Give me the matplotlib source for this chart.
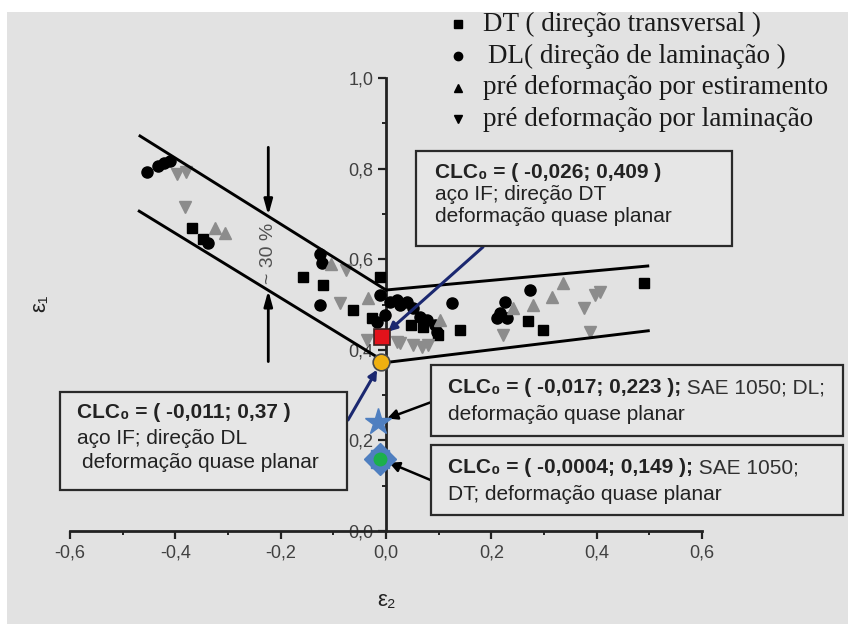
import matplotlib
matplotlib.use("Agg")
import matplotlib.pyplot as plt
from matplotlib.patches import Rectangle

# ---------------- data ----------------
# DT (direção transversal) - black squares
dt_x = [-0.369, -0.347, -0.157, -0.119, -0.062, -0.011, -0.027, 0.048, 0.070, 0.099, 0.140, 0.269, 0.299, 0.489]
dt_y = [0.669, 0.644, 0.561, 0.543, 0.488, 0.561, 0.470, 0.455, 0.450, 0.433, 0.444, 0.464, 0.444, 0.547]
# DL (direção de laminação) - black circles
dl_x = [-0.454, -0.432, -0.421, -0.411, -0.338, -0.126, -0.122, -0.125, -0.011, -0.018, -0.002, 0.008, 0.020,
        0.027, 0.039, 0.052, 0.065, 0.077, 0.093, 0.096, 0.125, 0.210, 0.216, 0.226, 0.229, 0.273]
dl_y = [0.793, 0.806, 0.812, 0.817, 0.636, 0.612, 0.591, 0.499, 0.521, 0.462, 0.477, 0.506, 0.510,
        0.499, 0.506, 0.492, 0.473, 0.466, 0.455, 0.440, 0.503, 0.470, 0.481, 0.506, 0.470, 0.532]
# pré deformação por estiramento - gray up triangles
est_x = [-0.325, -0.306, -0.105, -0.034, 0.103, 0.242, 0.280, 0.315, 0.337]
est_y = [0.668, 0.657, 0.590, 0.514, 0.466, 0.492, 0.499, 0.516, 0.547]
# pré deformação por laminação - gray down triangles
lam_x = [-0.397, -0.380, -0.382, -0.087, -0.075, -0.037, 0.020, 0.027, 0.051, 0.068, 0.080, 0.223, 0.375, 0.397, 0.406, 0.387]
lam_y = [0.787, 0.793, 0.716, 0.504, 0.576, 0.422, 0.418, 0.414, 0.411, 0.407, 0.411, 0.433, 0.492, 0.521, 0.528, 0.440]

# limit band lines
upper_left_x, upper_left_y = [-0.467, 0.0], [0.872, 0.532]
lower_left_x, lower_left_y = [-0.4685, 0.0], [0.706, 0.372]
upper_right_x, upper_right_y = [0.0, 0.497], [0.532, 0.585]
lower_right_x, lower_right_y = [0.0, 0.498], [0.372, 0.442]

# CLC0 markers (red square, orange circle, blue star, blue/green seal)
clc_x = [-0.008, -0.009, -0.015, -0.011]
clc_y = [0.428, 0.372, 0.241, 0.159]

# band thickness arrows
thick_x = -0.2235
thick_upper = [0.847, 0.697]
thick_lower = [0.374, 0.531]

xticks = [-0.6, -0.4, -0.2, 0.0, 0.2, 0.4, 0.6]
xtick_labels = ["-0,6", "-0,4", "-0,2", "0,0", "0,2", "0,4", "0,6"]
xminor = [-0.5, -0.3, -0.1, 0.1, 0.3, 0.5]
yticks = [0.0, 0.2, 0.4, 0.6, 0.8, 1.0]
ytick_labels = ["0,0", "0,2", "0,4", "0,6", "0,8", "1,0"]
yminor = [0.1, 0.3, 0.5, 0.7, 0.9]

legend_labels = ["DT ( direção transversal )", "DL( direção de laminação )",
                 "pré deformação por estiramento", "pré deformação por laminação"]

# ---------------- figure ----------------
W, H, DPI = 848, 624, 100
X0PX, Y0PX = 386.0, 531.0     # pixel of data origin
PXX, PXY = 526.7, 453.0       # pixels per data unit


def fp(x, y):
    """pixel position -> figure fraction"""
    return (x / W, 1 - y / H)


SANS = ["Liberation Sans", "DejaVu Sans"]
SERIF = ["Liberation Serif", "DejaVu Serif"]
BOX_FS = 15

fig = plt.figure(figsize=(W / DPI, H / DPI), dpi=DPI)
fig.patch.set_facecolor("white")
fig.patches.append(Rectangle((7 / W, 0), 1, 1 - 12 / H, transform=fig.transFigure,
                             facecolor="#e2e2e2", edgecolor="none", zorder=-10))

ax = fig.add_axes([0, 0, 1, 1])
ax.set_facecolor("none")
ax.set_xlim(-X0PX / PXX, (W - X0PX) / PXX)
ax.set_ylim(-(H - Y0PX) / PXY, Y0PX / PXY)

for s in ["top", "right"]:
    ax.spines[s].set_visible(False)
ax.spines["left"].set_position(("data", 0))
ax.spines["bottom"].set_position(("data", 0))
ax.spines["left"].set_bounds(0, 1.0)
ax.spines["bottom"].set_bounds(-0.6, 0.6)
for s in ["left", "bottom"]:
    ax.spines[s].set_linewidth(2.0)
    ax.spines[s].set_color("#222222")
    ax.spines[s].set_zorder(2)

ax.set_xticks(xticks, xtick_labels)
ax.set_xticks(xminor, minor=True)
ax.set_yticks(yticks, ytick_labels)
ax.set_yticks(yminor, minor=True)
ax.tick_params(which="major", direction="out", length=5.5, width=1.6, color="#222222",
               labelsize=13, labelcolor="#404040")
ax.tick_params(which="minor", direction="out", length=3, width=1.4, color="#222222")
ax.tick_params(axis="x", pad=4)
ax.tick_params(axis="y", pad=3.5)
for lab in ax.get_xticklabels() + ax.get_yticklabels():
    lab.set_family(SANS)

# scatter series
ax.plot(dl_x, dl_y, "o", ms=8, color="black", zorder=3)
ax.plot(dt_x, dt_y, "s", ms=7, color="black", zorder=3)
ax.plot(est_x, est_y, "^", ms=8.5, color="#8c8c8c", zorder=3)
ax.plot(lam_x, lam_y, "v", ms=8.5, color="#8c8c8c", zorder=3)

# band lines
for lx, ly in [(upper_left_x, upper_left_y), (lower_left_x, lower_left_y),
               (upper_right_x, upper_right_y), (lower_right_x, lower_right_y)]:
    ax.plot(lx, ly, "-", color="black", lw=2.1, zorder=4)

# thickness arrows + label
arrow_kw = dict(arrowstyle="-|>,head_length=0.9,head_width=0.25", color="black", lw=2.0,
                shrinkA=0, shrinkB=0)
ax.annotate("", xy=(thick_x, thick_upper[1]), xytext=(thick_x, thick_upper[0]),
            arrowprops=arrow_kw, zorder=4)
ax.annotate("", xy=(thick_x, thick_lower[1]), xytext=(thick_x, thick_lower[0]),
            arrowprops=arrow_kw, zorder=4)
ax.text(thick_x, 0.612, "~ 30 %", rotation=90, ha="center", va="center",
        fontsize=14, color="#505050", family=SANS, zorder=4)

# navy connectors to the CLC markers
navy_kw = dict(arrowstyle="-|>,head_length=0.5,head_width=0.25", color="#1b2870", lw=2.2,
               shrinkA=0, shrinkB=6)
ax.annotate("", xy=(clc_x[0], clc_y[0]), xytext=fp(483, 247), textcoords="figure fraction",
            arrowprops=navy_kw, zorder=5)
ax.annotate("", xy=(clc_x[1], clc_y[1]), xytext=fp(348, 420), textcoords="figure fraction",
            arrowprops=navy_kw, zorder=5)
black_kw = dict(arrowstyle="-|>,head_length=0.6,head_width=0.3", color="black", lw=1.8,
                shrinkA=0, shrinkB=7)
ax.annotate("", xy=(clc_x[2], clc_y[2]), xytext=fp(431.5, 402), textcoords="figure fraction",
            arrowprops=black_kw, zorder=5)
ax.annotate("", xy=(clc_x[3], clc_y[3]), xytext=fp(430.5, 480), textcoords="figure fraction",
            arrowprops=black_kw, zorder=5)

# CLC markers
ax.plot(clc_x[0], clc_y[0], "s", ms=11, color="#e3121b", mec="#3a2020", mew=1.2, zorder=7)
ax.plot(clc_x[1], clc_y[1], "o", ms=12, color="#f0b010", mec="#4a4a4a", mew=1.2, zorder=7)
ax.plot(clc_x[2], clc_y[2], "*", ms=20, color="#4f7fc0", mec="#4f7fc0", zorder=7)
ax.plot(clc_x[3], clc_y[3], "s", ms=13, color="#4f7fc0", mec="#4f7fc0", zorder=7)
ax.plot(clc_x[3], clc_y[3], "D", ms=16, color="#4f7fc0", mec="#4f7fc0", zorder=7)
ax.plot(clc_x[3], clc_y[3], "o", ms=9, color="#1cb04c", mec="#1cb04c", zorder=8)

# annotation boxes


def box(x0, y0, x1, y1):
    ax.add_patch(Rectangle(fp(x0, y1), (x1 - x0) / W, (y1 - y0) / H, transform=fig.transFigure,
                           facecolor="#e6e6e6", edgecolor="#2a2a2a", lw=1.6, clip_on=False, zorder=6))


def txt(x, y, s, bold=False, size=BOX_FS):
    return ax.text(*fp(x, y), s, transform=fig.transFigure, ha="left", va="center",
                   fontsize=size, family=SANS, fontweight="bold" if bold else "normal",
                   color="#222222", zorder=9)


def txt2(x, y, s_bold, s_rest, size=BOX_FS):
    t = ax.text(*fp(x, y), s_bold, transform=fig.transFigure, ha="left", va="baseline",
                fontsize=size, family=SANS, fontweight="bold", color="#222222", zorder=9)
    ax.annotate(s_rest, xy=(1, 0), xycoords=t, ha="left", va="bottom", fontsize=size,
                family=SANS, color="#303030", zorder=9)


box(416, 151, 732, 246)
txt(435, 172, "CLC₀ = ( -0,026; 0,409 )", bold=True)
txt(435, 194, "aço IF; direção DT")
txt(435, 216, "deformação quase planar")

box(60, 392, 347, 490)
txt(77, 413, "CLC₀ = ( -0,011; 0,37 )", bold=True)
txt(77, 438, "aço IF; direção DL")
txt(82, 463, "deformação quase planar")

box(431, 365, 843, 436)
txt2(448, 393, "CLC₀ = ( -0,017; 0,223 );", " SAE 1050; DL;")
txt(448, 415, "deformação quase planar")

box(431, 445, 843, 515)
txt2(448, 473, "CLC₀ = ( -0,0004; 0,149 );", " SAE 1050;")
txt(448, 495, "DT; deformação quase planar")

# axis titles
ax.text(*fp(40, 303), "ε₁", transform=fig.transFigure, rotation=90, ha="center", va="center",
        fontsize=16, family=SANS, color="#222222")
ax.text(*fp(386, 600), "ε₂", transform=fig.transFigure, ha="center", va="center",
        fontsize=16, family=SANS, color="#222222")

# legend (manual)
leg_markers = ["s", "o", "^", "v"]
leg_rows = [24, 56, 88, 119]
leg_text_x = [483, 488, 483, 483]
for m, yy, tx, lab in zip(leg_markers, leg_rows, leg_text_x, legend_labels):
    ax.plot(*fp(458, yy), marker=m, ms=6, color="black", transform=fig.transFigure,
            clip_on=False, ls="none", zorder=9)
    ax.text(*fp(tx, yy), lab, transform=fig.transFigure, ha="left", va="center",
            fontsize=19.5, family=SERIF, color="#1a1a1a", zorder=9)

fig.savefig("out.png", dpi=DPI, facecolor=fig.get_facecolor())
